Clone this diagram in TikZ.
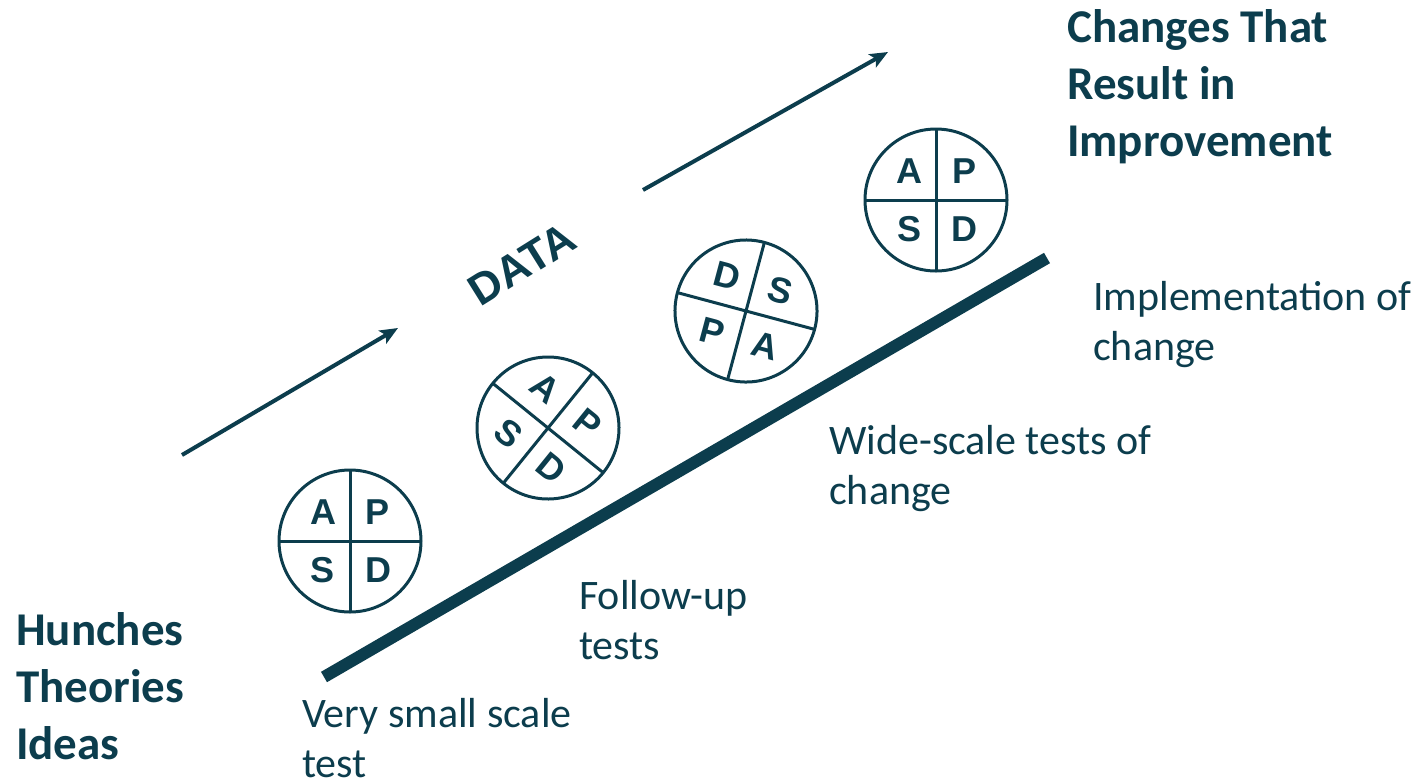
\documentclass[tikz,border=0pt]{standalone}
\usepackage{fontspec}
\setmainfont{Carlito}
\newfontfamily\pdsafont{Liberation Sans}
\usetikzlibrary{arrows.meta}
\definecolor{ink}{HTML}{0C3D4D}

\begin{document}
\begin{tikzpicture}[
  x=1pt,y=-1pt,
  every node/.style={text=ink},
  title/.style={anchor=north west,align=left,inner sep=0pt,
    font=\fontsize{47}{57}\selectfont\bfseries},
  stage/.style={anchor=north west,align=left,inner sep=0pt,
    font=\fontsize{42}{50}\selectfont},
  cycle/.style={draw=ink,line width=3pt,circle,minimum size=142pt,
    inner sep=0pt,outer sep=0pt,transform shape},
  letter/.style={font=\pdsafont\fontsize{36}{36}\selectfont\bfseries,
    inner sep=0pt,transform shape},
  arrow/.style={draw=ink,line width=4pt,
    -{Stealth[length=18pt,width=15pt,inset=4pt]}},
  ramp/.style={draw=ink,line width=12pt}
]
\useasboundingbox (0,0) rectangle (1422,780);

% end points of the two data arrows and the ramp
\coordinate (d1s) at (182,455);
\coordinate (d1e) at (398,328);
\coordinate (d2s) at (643,190);
\coordinate (d2e) at (888,52);
\coordinate (r0) at (324,677);
\coordinate (r1) at (1047,258);

\draw[ramp] (r0) -- (r1);
\draw[arrow] (d1s) -- (d1e);
\draw[arrow] (d2s) -- (d2e);

\node[font=\pdsafont\fontsize{44}{44}\selectfont\bfseries,rotate=32]
  (data) at (522,264) {DATA};

% PDSA cycles, turning as they climb
\foreach \n/\cx/\cy/\r/\tl/\tr/\bl/\br in {
    1/350/541/0/A/P/S/D,
    2/548/428/-39/A/P/S/D,
    3/746/311/-15/D/S/P/A,
    4/936/200/0/A/P/S/D} {
  \begin{scope}[shift={(\cx,\cy)},rotate=\r]
    \node[cycle] (c\n) at (0,0) {};
    \draw[ink,line width=3pt] (c\n.north) -- (c\n.south)
      (c\n.west) -- (c\n.east);
    \node[letter] (c\n-tl) at (-27,-29) {\tl};
    \node[letter] (c\n-tr) at (28,-29) {\tr};
    \node[letter] (c\n-bl) at (-27,29) {\bl};
    \node[letter] (c\n-br) at (28,29) {\br};
  \end{scope}
}

\node[title] (hunches) at (16,612) {Hunches\\Theories\\Ideas};
\node[title] (changes) at (1067,9) {Changes That\\Result in\\Improvement};

\node[stage] (small) at (302,698) {Very small scale\\test};
\node[stage] (follow) at (579,580) {Follow-up\\tests};
\node[stage] (wide) at (829,425) {Wide-scale tests of\\change};
\node[stage] (impl) at (1093,281) {Implementation of\\change};
\end{tikzpicture}
\end{document}
